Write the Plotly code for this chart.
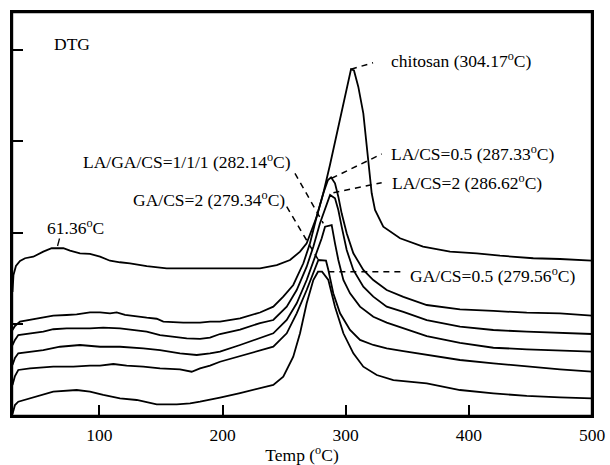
import plotly.graph_objects as go

# ---------------- data (temperature in degC, DTG signal in stacked arbitrary units) -------------
temp_chitosan = [29.4, 30.2, 32.2, 35.5, 39.6, 46.3, 54.4, 61.2, 70.7, 76.1, 84.2, 92.3, 100.5, 108.6,
                 116.7, 124.8, 138.4, 154.6, 189.8, 230.4, 244.0, 254.8, 262.9, 268.3, 276.4, 281.8,
                 287.2, 292.9, 299.4, 304.3, 306.7, 310.2, 314.3, 318.4, 321.1, 323.8, 330.5, 344.1,
                 362.8, 384.7, 406.4, 425.3, 452.3, 474.0, 499.8]
dtg_chitosan = [1.355, 1.541, 1.639, 1.694, 1.724, 1.741, 1.796, 1.833, 1.833, 1.807, 1.778, 1.771, 1.741,
                1.697, 1.680, 1.669, 1.639, 1.614, 1.614, 1.614, 1.650, 1.705, 1.796, 1.887, 2.178, 2.434,
                2.743, 3.093, 3.486, 3.789, 3.776, 3.599, 3.308, 2.798, 2.434, 2.251, 2.069, 1.942,
                1.850, 1.796, 1.778, 1.752, 1.724, 1.716, 1.697]

temp_la_cs_05 = [29.4, 31.4, 35.5, 43.6, 54.4, 62.5, 73.4, 81.5, 92.3, 100.5, 108.6, 114.0, 120.8, 130.3,
                 138.4, 146.5, 151.9, 168.1, 181.7, 189.8, 197.9, 214.2, 230.4, 241.2, 249.3, 257.4,
                 265.6, 271.0, 276.4, 281.8, 285.6, 288.1, 291.3, 294.0, 296.7, 300.8, 306.2, 314.3,
                 322.4, 333.3, 346.8, 365.8, 392.8, 419.9, 447.0, 474.0, 499.8]
dtg_la_cs_05 = [0.940, 0.984, 1.031, 1.049, 1.079, 1.096, 1.104, 1.111, 1.133, 1.133, 1.122, 1.133, 1.104,
                1.085, 1.074, 1.063, 1.031, 1.020, 1.020, 1.031, 1.031, 1.068, 1.131, 1.195, 1.304, 1.432,
                1.669, 1.887, 2.178, 2.434, 2.579, 2.609, 2.543, 2.397, 2.215, 1.997, 1.778, 1.596,
                1.486, 1.377, 1.301, 1.213, 1.166, 1.148, 1.129, 1.122, 1.096]

temp_la_cs_2 = [29.4, 31.4, 34.1, 43.6, 54.4, 62.5, 73.4, 92.3, 103.1, 116.7, 127.5, 138.4, 149.2, 160.0,
                170.9, 181.7, 189.8, 197.9, 214.2, 230.4, 241.2, 252.1, 260.2, 268.3, 273.7, 279.1,
                284.6, 287.3, 291.3, 294.0, 296.7, 300.8, 306.2, 314.3, 322.4, 333.3, 346.8, 365.8,
                392.8, 419.9, 447.0, 474.0, 499.8]
dtg_la_cs_2 = [0.776, 0.831, 0.885, 0.904, 0.921, 0.948, 0.958, 0.958, 0.965, 0.958, 0.940, 0.921, 0.885,
               0.867, 0.849, 0.842, 0.856, 0.896, 0.945, 1.016, 1.049, 1.195, 1.377, 1.632, 1.850, 2.106,
               2.325, 2.415, 2.379, 2.251, 2.069, 1.814, 1.596, 1.413, 1.304, 1.195, 1.137, 1.049,
               0.976, 0.940, 0.921, 0.910, 0.896]

temp_la_ga_cs = [29.4, 31.4, 34.1, 43.6, 54.4, 68.0, 84.2, 100.5, 116.7, 135.6, 149.2, 165.4, 179.0, 189.8,
                 197.9, 214.2, 230.4, 241.2, 252.1, 260.2, 268.3, 275.1, 280.5, 283.2, 288.6, 291.3,
                 294.0, 298.1, 303.5, 311.6, 322.4, 333.3, 346.8, 365.8, 392.8, 419.9, 447.0, 474.0, 499.8]
dtg_la_ga_cs = [0.557, 0.634, 0.685, 0.703, 0.721, 0.757, 0.776, 0.757, 0.757, 0.740, 0.721, 0.685, 0.667,
                0.685, 0.703, 0.776, 0.852, 0.904, 1.049, 1.232, 1.486, 1.741, 1.942, 2.069, 2.087, 1.887,
                1.705, 1.486, 1.341, 1.195, 1.085, 1.020, 0.962, 0.874, 0.798, 0.746, 0.729, 0.714, 0.703]

temp_ga_cs_2 = [29.4, 31.4, 34.1, 43.6, 62.5, 78.8, 92.3, 100.5, 111.3, 122.1, 135.6, 149.2, 165.4, 174.9,
                181.7, 189.8, 197.9, 214.2, 230.4, 241.2, 252.1, 260.2, 268.3, 273.7, 277.8, 284.0,
                285.9, 289.9, 295.4, 303.5, 311.6, 322.4, 333.3, 346.8, 365.8, 392.8, 419.9, 447.0,
                474.0, 499.8]
dtg_ga_cs_2 = [0.339, 0.437, 0.503, 0.521, 0.539, 0.539, 0.550, 0.550, 0.568, 0.550, 0.539, 0.521, 0.510,
               0.484, 0.521, 0.550, 0.593, 0.656, 0.721, 0.757, 0.904, 1.122, 1.377, 1.560, 1.705, 1.697,
               1.596, 1.341, 1.122, 0.940, 0.831, 0.776, 0.740, 0.710, 0.667, 0.612, 0.576, 0.539,
               0.510, 0.484]

temp_ga_cs_05 = [29.4, 31.4, 34.1, 43.6, 54.4, 62.5, 81.5, 92.3, 103.1, 116.7, 130.3, 146.5, 162.8, 173.6,
                 181.7, 189.8, 197.9, 214.2, 230.4, 241.2, 249.3, 257.4, 262.9, 268.3, 273.7, 277.5,
                 280.8, 285.9, 291.3, 298.1, 306.2, 314.3, 325.2, 338.7, 365.8, 392.8, 419.9, 447.0,
                 474.0, 499.8]
dtg_ga_cs_05 = [0.022, 0.120, 0.156, 0.193, 0.230, 0.266, 0.284, 0.266, 0.230, 0.193, 0.175, 0.128, 0.128,
                0.139, 0.156, 0.175, 0.202, 0.251, 0.306, 0.339, 0.430, 0.648, 0.904, 1.232, 1.486, 1.577,
                1.577, 1.486, 1.195, 0.904, 0.685, 0.539, 0.448, 0.393, 0.357, 0.284, 0.248, 0.219,
                0.204, 0.193]

x_tick_values = [100, 200, 300, 400, 500]
x_tick_labels = ["100", "200", "300", "400", "500"]
y_tick_values = [1, 2, 3, 4]

series_names = ["chitosan", "LA/CS=0.5", "LA/CS=2", "LA/GA/CS=1/1/1", "GA/CS=2", "GA/CS=0.5"]
series_temps = [temp_chitosan, temp_la_cs_05, temp_la_cs_2, temp_la_ga_cs, temp_ga_cs_2, temp_ga_cs_05]
series_dtg = [dtg_chitosan, dtg_la_cs_05, dtg_la_cs_2, dtg_la_ga_cs, dtg_ga_cs_2, dtg_ga_cs_05]

# label texts
label_texts = ["chitosan (304.17<sup>o</sup>C)", "LA/CS=0.5 (287.33<sup>o</sup>C)",
               "LA/CS=2 (286.62<sup>o</sup>C)", "LA/GA/CS=1/1/1 (282.14<sup>o</sup>C)",
               "GA/CS=2 (279.34<sup>o</sup>C)", "GA/CS=0.5 (279.56<sup>o</sup>C)"]

# ---------------- figure -------------
FONT = "Liberation Serif, Times New Roman, serif"
FS = 17.5
fig = go.Figure()

for name, t, d in zip(series_names, series_temps, series_dtg):
    fig.add_trace(go.Scatter(x=t, y=d, mode="lines", name=name, showlegend=False,
                             line=dict(color="black", width=1.8), hoverinfo="skip"))

# dashed leader lines: (x0, y0) -> (x1, y1) in data coordinates
leaders = [
    ((304.3, 3.789), (322.2, 3.861)),
    ((288.6, 2.598), (329.2, 2.863)),
    ((290.0, 2.440), (329.2, 2.550)),
    ((258.8, 2.652), (281.8, 2.106)),
    ((252.1, 2.287), (277.8, 1.705)),
    ((285.9, 1.577), (345.5, 1.577)),
]
for (x0, y0), (x1, y1) in leaders:
    fig.add_trace(go.Scatter(x=[x0, x1], y=[y0, y1], mode="lines", showlegend=False, hoverinfo="skip",
                             line=dict(color="black", width=1.5, dash="6px,5px")))
# short solid marker for the 61.36 C maximum
fig.add_trace(go.Scatter(x=[66.0, 67.6], y=[1.858, 1.940], mode="lines", showlegend=False,
                         hoverinfo="skip", line=dict(color="black", width=1.3)))

ann_font = dict(family=FONT, size=FS, color="black")
annotations = [
    dict(x=61.5, y=4.06, text="DTG", xanchor="left"),
    dict(x=335.2, y=3.89, text=label_texts[0], xanchor="left"),
    dict(x=335.2, y=2.874, text=label_texts[1], xanchor="left"),
    dict(x=336.0, y=2.557, text=label_texts[2], xanchor="left"),
    dict(x=256.8, y=2.79, text=label_texts[3], xanchor="right"),
    dict(x=252.6, y=2.372, text=label_texts[4], xanchor="right"),
    dict(x=350.6, y=1.541, text=label_texts[5], xanchor="left"),
    dict(x=55.8, y=2.07, text="61.36<sup>o</sup>C", xanchor="left"),
]
for a in annotations:
    a.update(xref="x", yref="y", yanchor="middle", showarrow=False, font=ann_font)

fig.update_layout(
    width=610, height=465,
    margin=dict(l=12, r=18, t=12, b=49, autoexpand=False),
    paper_bgcolor="white", plot_bgcolor="white",
    font=dict(family=FONT, size=FS, color="black"),
    annotations=annotations,
    showlegend=False,
    shapes=[dict(type="rect", xref="paper", yref="paper", x0=0, x1=1, y0=0, y1=1,
                 line=dict(color="black", width=2.4), fillcolor="rgba(0,0,0,0)", layer="above")],
)
fig.update_xaxes(range=[29, 500], tickmode="array", tickvals=x_tick_values, ticktext=x_tick_labels,
                 ticks="inside", ticklen=11, tickwidth=1.5, tickcolor="black",
                 showline=True, linecolor="black", linewidth=2, mirror=True,
                 showgrid=False, zeroline=False, automargin=False, ticklabelstandoff=2,
                 title=dict(text="Temp (<sup>o</sup>C)", standoff=0, font=dict(family=FONT, size=FS)),
                 tickfont=dict(family=FONT, size=FS))
fig.update_yaxes(range=[0, 4.415], tickmode="array", tickvals=y_tick_values, showticklabels=False,
                 ticks="inside", ticklen=11, tickwidth=1.5, tickcolor="black",
                 showline=True, linecolor="black", linewidth=2, mirror=True,
                 showgrid=False, zeroline=False, automargin=False)

fig.write_html("out.html", config={"displayModeBar": False},
               post_script="document.body.style.margin='0px';document.body.style.overflow='hidden';")
